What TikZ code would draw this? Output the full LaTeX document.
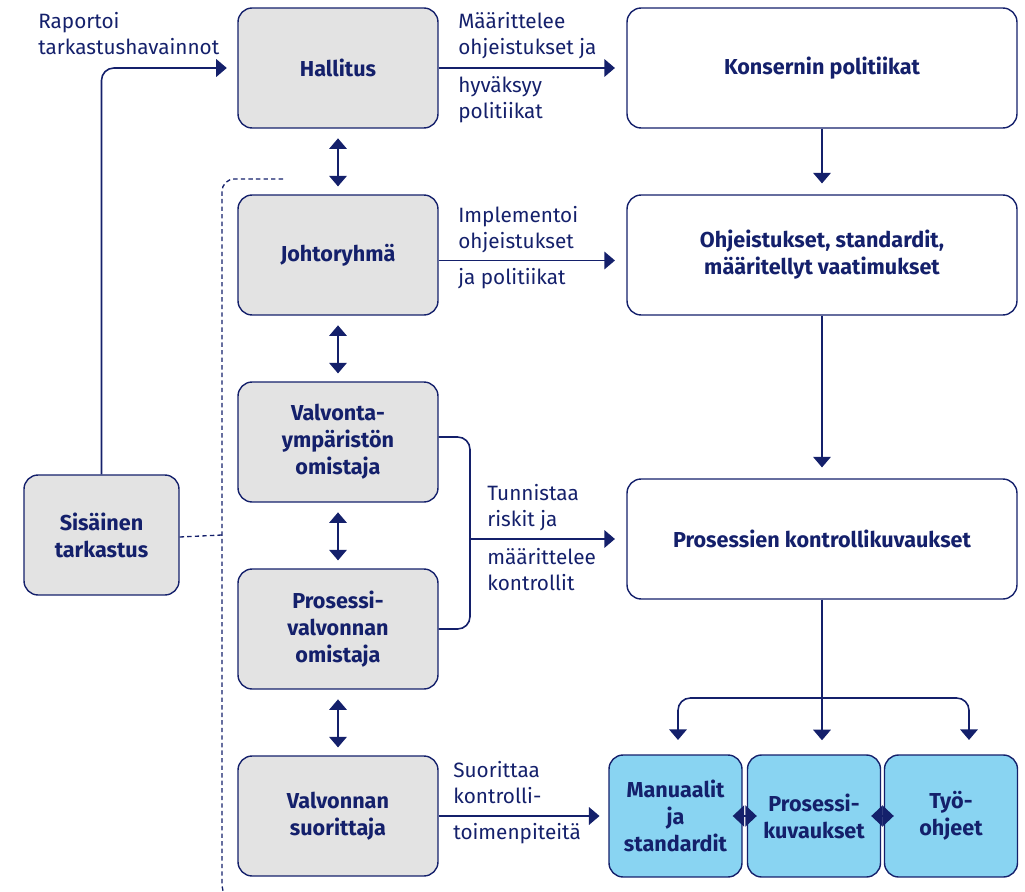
\documentclass[tikz,border=0pt]{standalone}
\usepackage{fontspec}
\setmainfont{Fira Sans}
\usetikzlibrary{arrows.meta,positioning,calc}
\definecolor{navy}{HTML}{14206B}
\definecolor{boxgray}{HTML}{E3E3E3}
\definecolor{boxblue}{HTML}{89D4F2}
\tikzset{
  role/.style={draw=navy,fill=boxgray,line width=0.8pt,rounded corners=8pt,
    minimum width=4cm,minimum height=2.4cm,align=center,text=navy,
    font=\bfseries\fontsize{12.3}{15.4}\selectfont},
  doc/.style={role,fill=white,minimum width=7.8cm},
  tool/.style={role,fill=boxblue,minimum width=2.66cm,minimum height=2.44cm},
  lbl/.style={align=left,inner sep=0pt,text=navy,font=\fontsize{11.8}{14.7}\selectfont},
  arr/.style={draw=navy,line width=0.9pt,-{Triangle[length=6pt,width=10pt]}},
  darr/.style={arr,{Triangle[length=6pt,width=10pt]}-{Triangle[length=6pt,width=10pt]}},
  link/.style={arr,{Triangle[length=6.5pt,width=12pt]}-{Triangle[length=6.5pt,width=12pt]}},
  dotline/.style={draw=navy,line width=0.75pt,dash pattern=on 2.5pt off 1.8pt}
}

\begin{document}
\begin{tikzpicture}[x=0.02cm,y=-0.02cm]
\clip (0,0) rectangle (1025,892);
% left column
\node[role] (hal) at (338,68) {Hallitus};
\node[role] (joh) at (338,255) {Johtoryhmä};
\node[role] (vym) at (338,442) {Valvonta-\\ympäristön\\omistaja};
\node[role] (pvo) at (338,629) {Prosessi-\\valvonnan\\omistaja};
\node[role] (vsu) at (338,816) {Valvonnan\\suorittaja};
\node[role,minimum width=3.1cm] (sis) at (101.5,535) {Sisäinen\\tarkastus};
% right column
\node[doc] (kon) at (822,68) {Konsernin politiikat};
\node[doc] (ohj) at (822,255) {Ohjeistukset, standardit,\\määritellyt vaatimukset};
\node[doc] (pkk) at (822,539) {Prosessien kontrollikuvaukset};
\node[tool] (man) at (675.5,816) {Manuaalit\\ja\\standardit};
\node[tool] (pku) at (814,816) {Prosessi-\\kuvaukset};
\node[tool] (tyo) at (951,816) {Työ-\\ohjeet};
\coordinate (brk) at (470,539);
\coordinate (split) at (822,698);
\coordinate (manin) at (678,754);
\coordinate (tyoin) at (969,754);
\coordinate (dtop) at (283,179);
\coordinate (dbot) at (222,898);

% left chain
\draw[darr,shorten <=5.5pt,shorten >=4.5pt] (hal) -- (joh);
\draw[darr,shorten <=5.5pt,shorten >=4.5pt] (joh) -- (vym);
\draw[darr,shorten <=5.5pt,shorten >=4.5pt] (vym) -- (pvo);
\draw[darr,shorten <=5.5pt,shorten >=4.5pt] (pvo) -- (vsu);

% horizontal flows
\draw[arr,shorten >=6.5pt] (hal) -- (kon);
\draw[arr,shorten >=6.5pt] ([yshift=-0.11cm]joh.east) -- ([yshift=-0.11cm]ohj.west);
\draw[navy,line width=0.9pt,rounded corners=7pt] ([yshift=0.1cm]vym.east) -| (brk) |- (pvo.east);
\draw[arr,shorten >=6.5pt] (brk) -- (pkk);
\draw[arr,shorten >=5pt] (vsu) -- (man);
\draw[arr,rounded corners=7pt,shorten >=6pt] (sis.north) |- (hal);

% right chain
\draw[arr,shorten >=6.2pt] (kon) -- (ohj);
\draw[arr,shorten >=6.2pt] (ohj) -- (pkk);
\draw[arr,shorten >=8pt] (pkk) -- (pkk |- man.north);
\draw[arr,rounded corners=7pt,shorten >=8pt] (split) -| (manin);
\draw[arr,rounded corners=7pt,shorten >=8pt] (split) -| (tyoin);
\draw[link] ([xshift=-0.2cm]man.east) -- ([xshift=0.2cm]pku.west);
\draw[link] ([xshift=-0.2cm]pku.east) -- ([xshift=0.2cm]tyo.west);

% dashed scope of internal audit
\draw[dotline] ([yshift=-0.04cm]sis.east) -- (sis.east -| dbot);
\draw[dotline,rounded corners=7pt] (dtop) -| (dbot) -- ++(40,0);

% labels
\node[lbl,anchor=south west] (rap) at (38,55) {Raportoi\\tarkastushavainnot};
\node[lbl,anchor=south west] (maa) at (458,59) {Määrittelee\\ohjeistukset ja};
\node[lbl,anchor=north west] (hyv) at (458,76) {hyväksyy\\politiikat};
\node[lbl,anchor=south west] (imp) at (458,253) {Implementoi\\ohjeistukset};
\node[lbl,anchor=north west] (jap) at (458,268) {ja politiikat};
\node[lbl,anchor=south west] (tun) at (487,531) {Tunnistaa\\riskit ja};
\node[lbl,anchor=north west] (mkt) at (487,548) {määrittelee\\kontrollit};
\node[lbl,anchor=south west] (suo) at (453,804) {Suorittaa\\kontrolli-};
\node[lbl,anchor=north west] (toi) at (453,823) {toimenpiteitä};
\end{tikzpicture}
\end{document}
